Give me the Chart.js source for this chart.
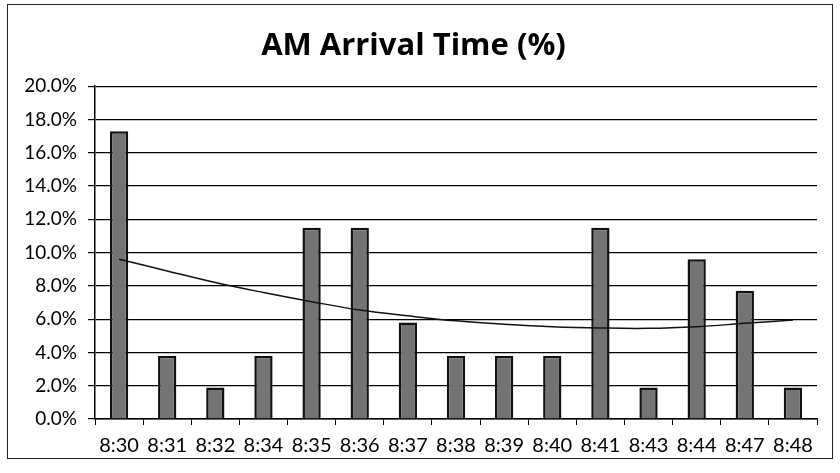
<!DOCTYPE html>
<html><head><meta charset="utf-8">
<script src="https://cdn.jsdelivr.net/npm/chart.js@4/dist/chart.umd.min.js"></script>
<style>html,body{margin:0;padding:0;background:#fff}#wrap{width:840px;height:473px}</style>
</head><body><div id="wrap"><canvas id="c" width="840" height="473"></canvas></div>
<script>
const categories = ['8:30','8:31','8:32','8:34','8:35','8:36','8:37','8:38','8:39','8:40','8:41','8:43','8:44','8:47','8:48'];
const arrivalPct = [17.3, 3.8, 1.9, 3.8, 11.5, 11.5, 5.8, 3.8, 3.8, 3.8, 11.5, 1.9, 9.6, 7.7, 1.9];
const trendPct = [9.6, 8.9, 8.2, 7.6, 7.05, 6.55, 6.2, 5.9, 5.7, 5.55, 5.47, 5.45, 5.55, 5.75, 5.95];
const yTicks = [0,2,4,6,8,10,12,14,16,18,20];

const frame = {
  id:'frame',
  afterDraw(chart){
    const ctx = chart.ctx;
    ctx.save();
    ctx.strokeStyle = '#222';
    ctx.lineWidth = 1;
    ctx.strokeRect(7.5, 4.5, 825, 454);
    ctx.restore();
  }
};

new Chart(document.getElementById('c'), {
  data: {
    labels: categories,
    datasets: [
      { type:'line', data: trendPct, borderColor:'#111', borderWidth:1.5, pointRadius:0, tension:0.4, fill:false, order:0 },
      { type:'bar', data: arrivalPct, backgroundColor:'#747474', borderColor:'#111', borderWidth:2.5, barPercentage:0.38, categoryPercentage:1, order:1 }
    ]
  },
  options: {
    responsive:false, animation:false,
    layout:{ padding:{ left:10, right:23, top:0, bottom:0 } },
    plugins:{
      legend:{display:false}, tooltip:{enabled:false},
      title:{ display:true, text:'AM Arrival Time (%)', color:'#000',
        font:{ family:'Open Sans', size:31, weight:'bold' }, padding:{ top:28, bottom:21 } }
    },
    scales:{
      x:{
        offset:true,
        grid:{ offset:true, drawOnChartArea:false, color:'#000', tickLength:6, tickColor:'#000' },
        border:{ color:'#000', width:1.5 },
        ticks:{ color:'#000', font:{ family:'Lato', size:20 }, padding:9, maxRotation:0, autoSkip:false },
        afterFit(s){ s.height = 54; }
      },
      y:{
        min:0, max:20,
        afterBuildTicks(s){ s.ticks = yTicks.map(v=>({value:v})); },
        grid:{ color:'#000', lineWidth:1.2, tickLength:7, tickColor:'#000' },
        border:{ color:'#000', width:1.5 },
        ticks:{ color:'#000', font:{ family:'Lato', size:19 }, padding:11, callback:v=>v.toFixed(1)+'%' },
        afterFit(s){ s.width = 85; }
      }
    }
  },
  plugins:[frame]
});
</script></body></html>
